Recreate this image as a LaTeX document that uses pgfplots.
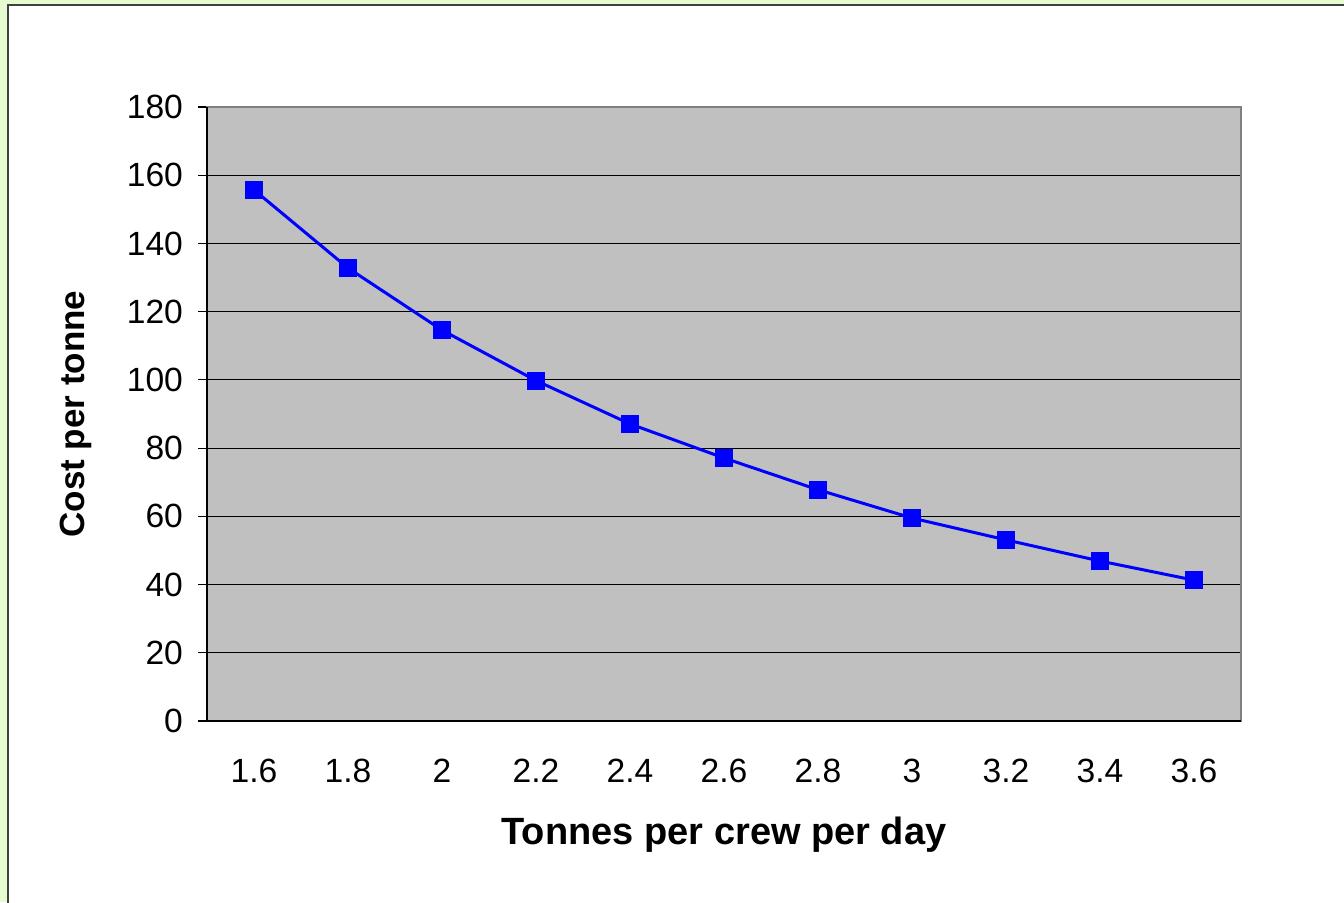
\documentclass[border=0pt]{standalone}
\usepackage{fontspec}
\setmainfont{Liberation Sans}
\usepackage{pgfplots}
\pgfplotsset{compat=1.18}
\definecolor{bggreen}{RGB}{230,251,208}
\definecolor{plotgray}{RGB}{192,192,192}
\definecolor{frame}{RGB}{64,64,64}
\begin{document}
\begin{tikzpicture}
\useasboundingbox (-103.5pt,-90.5pt) rectangle (568.5pt,360.5pt);
\fill[bggreen] (-103.5pt,-90.5pt) rectangle (568.5pt,360.5pt);
\fill[white] (-99.5pt,-90.5pt) rectangle (568.5pt,358pt);
\draw[frame,line width=1pt] (-99.5pt,-91pt) -- (-99.5pt,358pt) -- (569pt,358pt);
\begin{axis}[
  at={(0pt,0pt)}, anchor=south west,
  scale only axis,
  width=517pt, height=307pt,
  xmin=-0.5, xmax=10.5, ymin=0, ymax=180,
  axis background/.style={fill=plotgray},
  axis line style={draw=gray, line width=1pt},
  xtick={0,...,10},
  xticklabels={1.6,1.8,2,2.2,2.4,2.6,2.8,3,3.2,3.4,3.6},
  minor xtick={-0.5,0.5,...,10.5},
  ytick={0,20,...,180},
  tick pos=left,
  tick align=outside,
  major tick length=4.5pt,
  minor tick length=4.5pt,
  xtick style={draw=none},
  minor x tick style={black, line width=0.6pt},
  ytick style={black, line width=0.6pt},
  ymajorgrids,
  grid style={black, line width=0.6pt},
  /pgf/number format/assume math mode=true,
  ticklabel style={font=\fontsize{16.8}{20}\selectfont},
  xticklabel style={yshift=-11pt},
  yticklabel style={xshift=-4pt},
  xlabel={\fontsize{19}{22}\selectfont\bfseries Tonnes per crew per day},
  ylabel={\fontsize{17.5}{21}\selectfont\bfseries Cost per tonne},
  xlabel style={at={(axis description cs:0.5,0)}, anchor=center, yshift=-57pt},
  ylabel style={at={(axis description cs:-0.1267,0.5)}, anchor=center},
  clip=false,
]
\addplot[blue, line width=1.5pt, mark=square*, mark size=4.25pt, mark options={fill=blue, draw=blue, line width=0.5pt}]
coordinates {
(0,155.7) (1,132.8) (2,114.6) (3,99.8) (4,87.1) (5,77.1) (6,67.8) (7,59.5) (8,53.1) (9,46.9) (10,41.3)
};
\draw[black, line width=1pt] (rel axis cs:0,1) -- (rel axis cs:0,0) -- (rel axis cs:1,0);
\end{axis}
\end{tikzpicture}
\end{document}
